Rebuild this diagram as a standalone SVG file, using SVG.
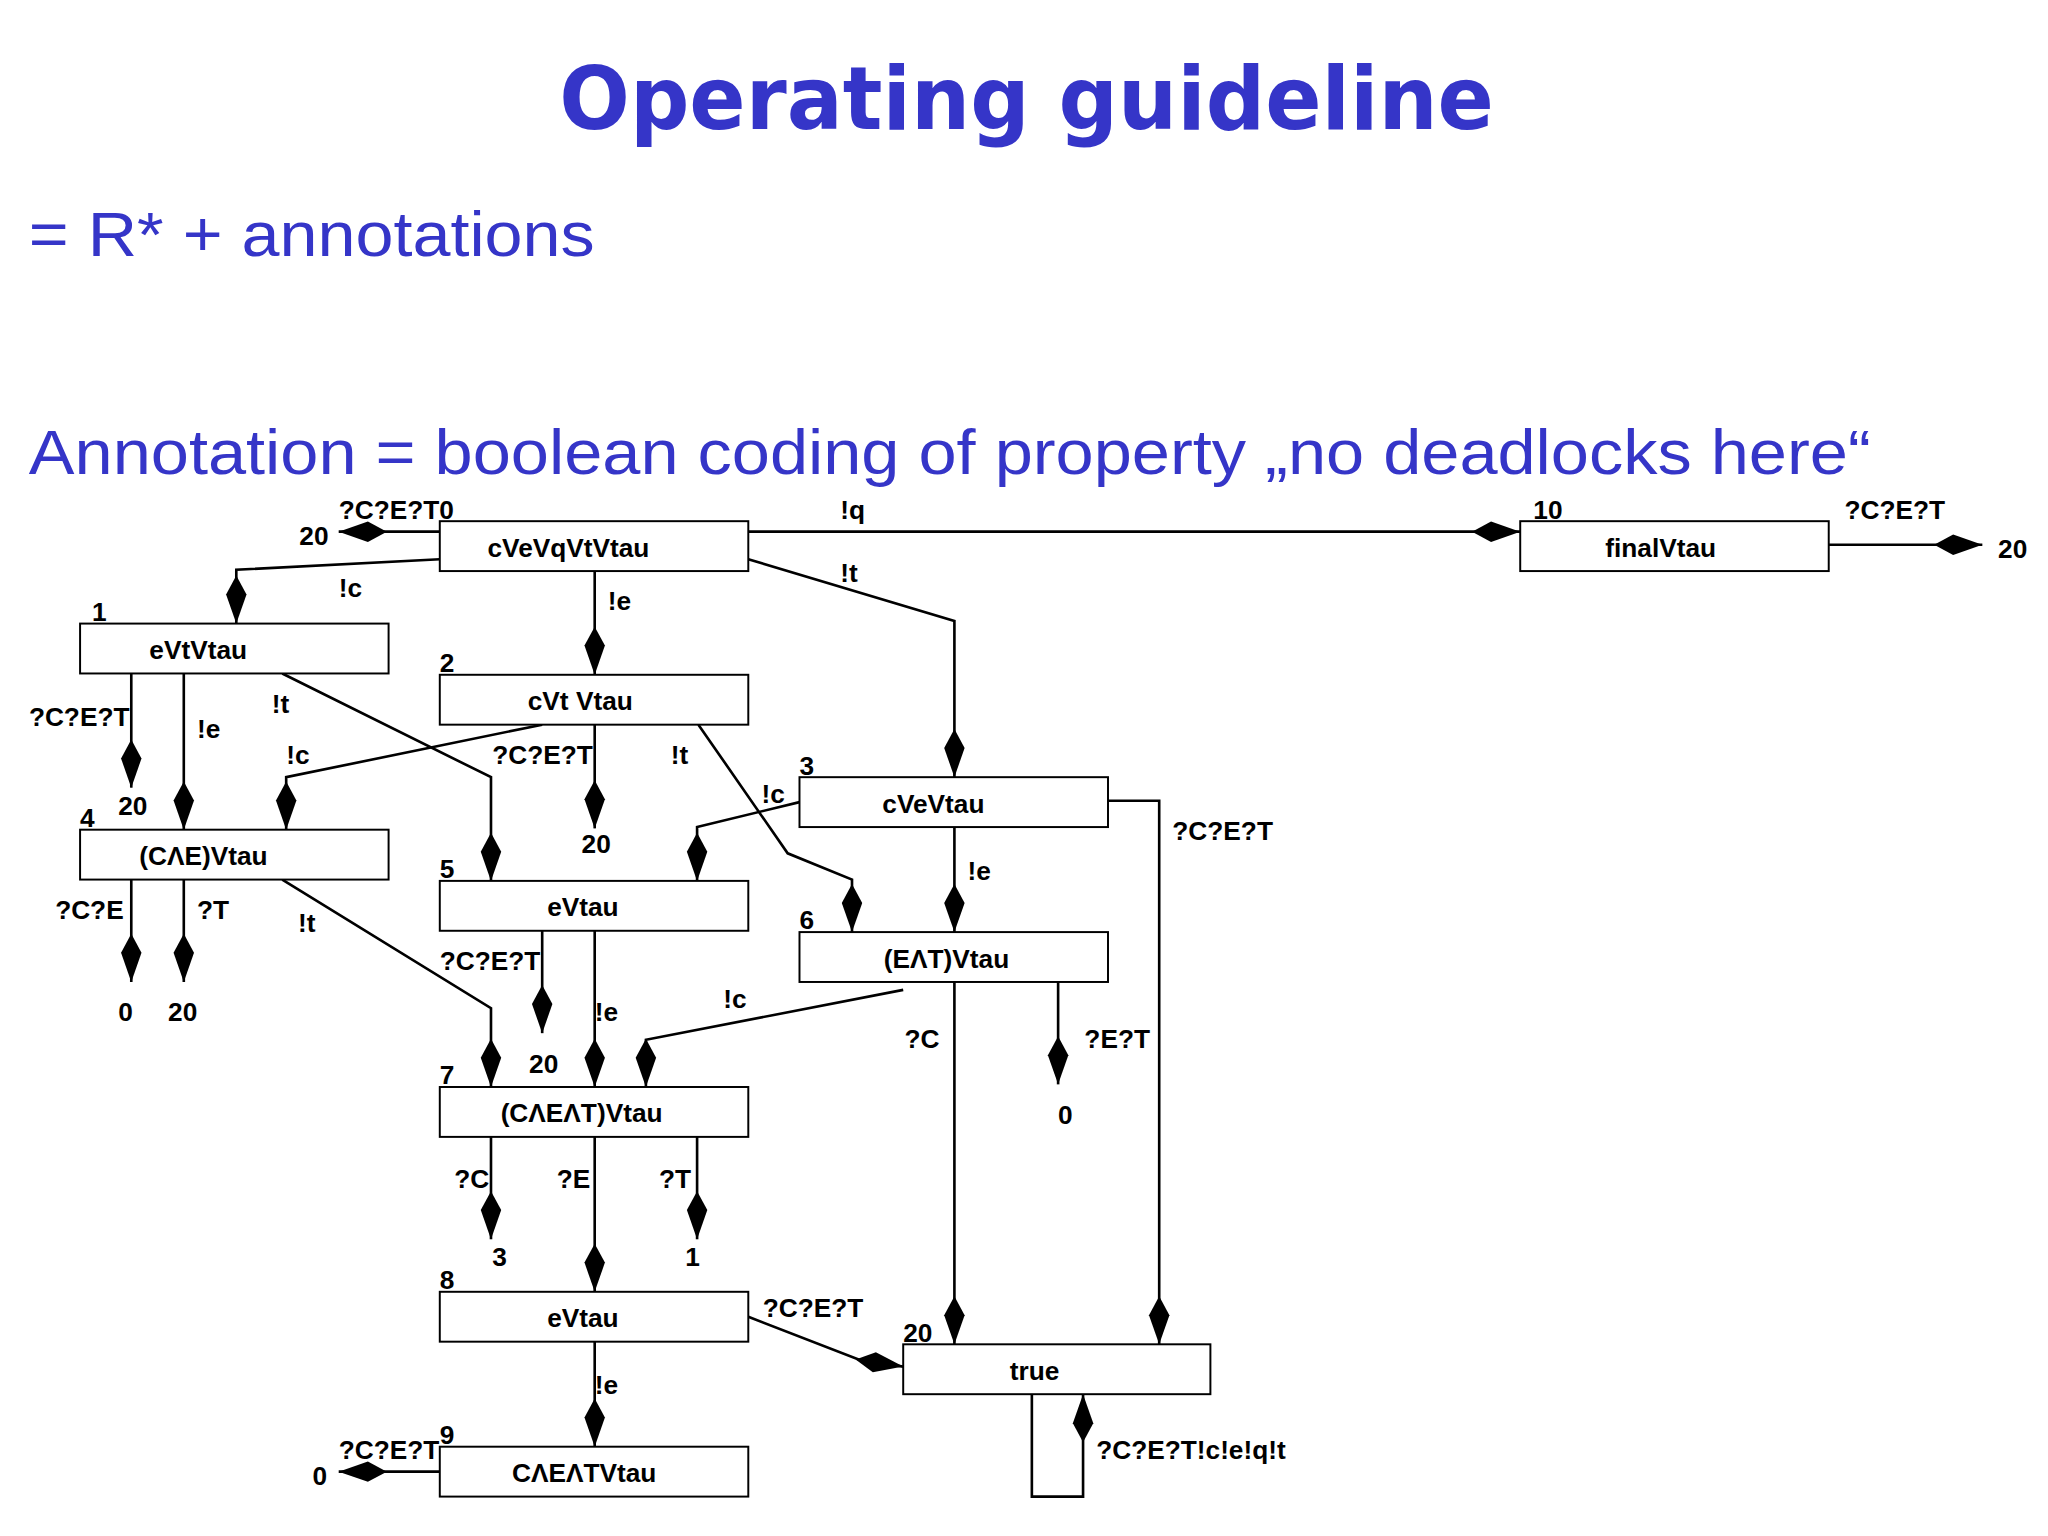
<svg xmlns="http://www.w3.org/2000/svg" width="2048" height="1536" viewBox="0 0 2048 1536">
<defs>
<style>
.h{font-family:"DejaVu Sans",Verdana,sans-serif;font-weight:bold;fill:#3535c8}
.s{font-family:"Liberation Sans",Arial,sans-serif;fill:#3535c8}
.t{font-family:"Liberation Sans",Arial,sans-serif;font-weight:bold;font-size:20px;fill:#000}
.c{text-anchor:middle}
rect{fill:#fff;stroke:#000;stroke-width:1.5}
.e{fill:none;stroke:#000;stroke-width:2;marker-end:url(#d)}
.l{fill:none;stroke:#000;stroke-width:2}
</style>
<marker id="d" markerUnits="userSpaceOnUse" markerWidth="40" markerHeight="20" viewBox="-34 -9 36 18" refX="0" refY="0" orient="auto">
<path d="M0,0 L-20,-7 L-33,0 L-20,7 Z" fill="#000"/>
</marker>
</defs>
<rect x="0" y="0" width="2048" height="1536" style="fill:#fff;stroke:none"/>
<g transform="scale(1.3128)">
<text class="h c" x="782" y="98" font-size="66" textLength="712" lengthAdjust="spacingAndGlyphs">Operating guideline</text>
<text class="s" x="22" y="195" font-size="48" textLength="431" lengthAdjust="spacingAndGlyphs">= R* + annotations</text>
<text class="s" x="22" y="361" font-size="48" textLength="1403" lengthAdjust="spacingAndGlyphs">Annotation = boolean coding of property „no deadlocks here“</text>

<g id="connectors">
<path class="e" d="M335,405 L258,405"/>
<path class="e" d="M570,405 L1158,405"/>
<path class="e" d="M1393,415 L1510,415"/>
<path class="e" d="M335,426 L180,434 L180,475"/>
<path class="e" d="M453,435 L453,514"/>
<path class="e" d="M570,426 L727,473 L727,592"/>
<path class="e" d="M100,513 L100,600"/>
<path class="e" d="M140,513 L140,632"/>
<path class="e" d="M215,513 L374,592 L374,671"/>
<path class="e" d="M413,552 L218,592 L218,632"/>
<path class="e" d="M453,552 L453,631"/>
<path class="e" d="M532,552 L600,650 L649,670 L649,710"/>
<path class="e" d="M609,611 L531,630 L531,671"/>
<path class="e" d="M727,630 L727,710"/>
<path class="e" d="M844,610 L883,610 L883,1024"/>
<path class="e" d="M100,670 L100,748"/>
<path class="e" d="M140,670 L140,748"/>
<path class="e" d="M215,670 L374,768 L374,828"/>
<path class="e" d="M413,709 L413,787"/>
<path class="e" d="M453,709 L453,828"/>
<path class="e" d="M688,754 L492,792 L492,828"/>
<path class="e" d="M727,748 L727,1024"/>
<path class="e" d="M806,748 L806,826"/>
<path class="e" d="M374,866 L374,944"/>
<path class="e" d="M453,866 L453,984"/>
<path class="e" d="M531,866 L531,944"/>
<path class="e" d="M570,1003 L655,1036 L688,1041"/>
<path class="e" d="M453,1022 L453,1102"/>
<path class="e" d="M335,1121 L258,1121"/>
<path class="e" d="M786,1062 L786,1140 L825,1140 L825,1062"/>
</g>

<g id="elabels" class="t">
<text x="258" y="395">?C?E?T0</text><text x="228" y="415">20</text>
<text x="640" y="395">!q</text>
<text x="1405" y="395">?C?E?T</text><text x="1522" y="425">20</text>
<text x="258" y="455">!c</text>
<text x="463" y="465">!e</text>
<text x="640" y="443">!t</text>
<text x="22" y="553">?C?E?T</text><text x="90" y="621">20</text>
<text x="150" y="562">!e</text>
<text x="207" y="543">!t</text>
<text x="218" y="582">!c</text>
<text x="375" y="582">?C?E?T</text><text x="443" y="650">20</text>
<text x="511" y="582">!t</text>
<text x="580" y="612">!c</text>
<text x="737" y="670">!e</text>
<text x="893" y="640">?C?E?T</text>
<text x="42" y="700">?C?E</text><text x="90" y="778">0</text>
<text x="150" y="700">?T</text><text x="128" y="778">20</text>
<text x="227" y="710">!t</text>
<text x="335" y="739">?C?E?T</text><text x="403" y="817">20</text>
<text x="453" y="778">!e</text>
<text x="551" y="768">!c</text>
<text x="689" y="798">?C</text>
<text x="826" y="798">?E?T</text><text x="806" y="856">0</text>
<text x="346" y="905">?C</text><text x="375" y="964">3</text>
<text x="424" y="905">?E</text>
<text x="502" y="905">?T</text><text x="522" y="964">1</text>
<text x="581" y="1003">?C?E?T</text>
<text x="453" y="1062">!e</text>
<text x="258" y="1111">?C?E?T</text><text x="238" y="1131">0</text>
<text x="835" y="1111">?C?E?T!c!e!q!t</text>
</g>

<g id="n0"><rect x="335" y="397" width="235" height="38"/><text class="t c" x="433" y="424">cVeVqVtVtau</text></g>
<g id="n10"><rect x="1158" y="397" width="235" height="38"/><text class="t c" x="1265" y="424">finalVtau</text><text class="t" x="1168" y="395">10</text></g>
<g id="n1"><rect x="61" y="475" width="235" height="38"/><text class="t c" x="151" y="502">eVtVtau</text><text class="t" x="70" y="473">1</text></g>
<g id="n2"><rect x="335" y="514" width="235" height="38"/><text class="t c" x="442" y="541">cVt  Vtau</text><text class="t" x="335" y="512">2</text></g>
<g id="n3"><rect x="609" y="592" width="235" height="38"/><text class="t c" x="711" y="619">cVeVtau</text><text class="t" x="609" y="590">3</text></g>
<g id="n4"><rect x="61" y="632" width="235" height="38"/><text class="t c" x="155" y="659">(CΛE)Vtau</text><text class="t" x="61" y="630">4</text></g>
<g id="n5"><rect x="335" y="671" width="235" height="38"/><text class="t c" x="444" y="698">eVtau</text><text class="t" x="335" y="669">5</text></g>
<g id="n6"><rect x="609" y="710" width="235" height="38"/><text class="t c" x="721" y="737">(EΛT)Vtau</text><text class="t" x="609" y="708">6</text></g>
<g id="n7"><rect x="335" y="828" width="235" height="38"/><text class="t c" x="443" y="855">(CΛEΛT)Vtau</text><text class="t" x="335" y="826">7</text></g>
<g id="n8"><rect x="335" y="984" width="235" height="38"/><text class="t c" x="444" y="1011">eVtau</text><text class="t" x="335" y="982">8</text></g>
<g id="n9"><rect x="335" y="1102" width="235" height="38"/><text class="t c" x="445" y="1129">CΛEΛTVtau</text><text class="t" x="335" y="1100">9</text></g>
<g id="ntrue"><rect x="688" y="1024" width="234" height="38"/><text class="t c" x="788" y="1051">true</text><text class="t" x="688" y="1022">20</text></g>
</g>
</svg>
